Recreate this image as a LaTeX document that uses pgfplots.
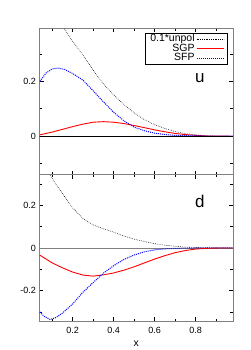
\documentclass[border=0pt]{standalone}
\usepackage{fontspec}
\setmainfont{Liberation Sans}
\usepackage{pgfplots}
\pgfplotsset{compat=1.18}
\definecolor{frame}{RGB}{128,128,128}
\pgfplotsset{
  panel/.style={
    scale only axis, width=193.5pt, height=146.5pt,
    xmin=0.038, xmax=0.982,
    axis line style={frame, line width=0.9pt},
    tick style={black, line width=0.5pt},
    major tick length=4pt, minor tick length=2.5pt,
    tick align=inside,
    xtick={0.2,0.4,0.6,0.8}, minor xtick={0.1,0.3,0.5,0.7,0.9},
    ticklabel style={font=\fontsize{9}{10}\selectfont},
    /pgf/number format/assume math mode=true,
    yticklabel style={/pgf/number format/fixed},
    xticklabel style={/pgf/number format/fixed},
    clip=true,
  },
  unpol/.style={black, line width=0.6pt, dash pattern=on 0.6pt off 1.2pt},
  sgp/.style={red, line width=0.9pt},
  sfp/.style={blue, line width=1.0pt, dash pattern=on 1pt off 1pt},
}
\begin{document}
\begin{tikzpicture}
\useasboundingbox (-39.5pt,-175.3pt) rectangle (210.5pt,174.7pt);
\begin{axis}[panel, at={(0,0)}, anchor=south west,
  ymin=-0.14, ymax=0.393,
  ytick={0,0.2}, minor ytick={-0.1,0.1,0.3},
  xticklabels={},
  legend plot pos=right,
  legend cell align=right,
  legend image code/.code={\draw[#1] (0pt,0pt) -- (27pt,0pt);},
  legend style={at={(0.974,0.965)}, anchor=north east, draw=black, line width=0.6pt,
    inner xsep=3.5pt, inner ysep=1pt, row sep=0pt,
    nodes={font=\fontsize{10.5}{10.5}\selectfont, inner xsep=1.5pt, inner ysep=0pt, text height=7.3pt, text depth=2.2pt}},
]
\addplot[unpol] coordinates {(0.16,0.39) (0.2,0.345) (0.25,0.295) (0.3,0.24) (0.35,0.19) (0.4,0.15) (0.45,0.115) (0.5,0.085) (0.55,0.06) (0.6,0.042) (0.65,0.028) (0.7,0.017) (0.75,0.009) (0.8,0.005) (0.85,0.002) (0.9,0.0005) (0.98,0)};
\addlegendentry{0.1*unpol}
\addplot[sgp] coordinates {(0.04,0.005) (0.1,0.015) (0.15,0.025) (0.2,0.035) (0.25,0.044) (0.3,0.051) (0.35,0.053) (0.4,0.051) (0.45,0.046) (0.5,0.039) (0.55,0.031) (0.6,0.023) (0.65,0.016) (0.7,0.010) (0.75,0.006) (0.8,0.003) (0.85,0.001) (0.9,0.0003) (0.98,0)};
\addlegendentry{SGP}
\addplot[sfp] coordinates {(0.04,0.2) (0.07,0.23) (0.1,0.245) (0.13,0.248) (0.16,0.243) (0.2,0.228) (0.25,0.204) (0.3,0.165) (0.35,0.125) (0.4,0.087) (0.45,0.056) (0.5,0.033) (0.55,0.02) (0.6,0.011) (0.65,0.006) (0.7,0.003) (0.8,0.001) (0.98,0)};
\addlegendentry{SFP}
\addplot[black, line width=0.6pt, forget plot] coordinates {(0.03,0) (0.99,0)};
\node[font=\fontsize{17}{17}\selectfont] at (axis cs:0.82,0.21) {u};
\end{axis}
\begin{axis}[panel, at={(0,0)}, anchor=north west,
  ymin=-0.343, ymax=0.343,
  ytick={-0.2,0,0.2}, minor ytick={-0.3,-0.1,0.1,0.3},
  xticklabel style={yshift=-2pt},
  xlabel={x}, xlabel style={font=\fontsize{10.5}{10.5}\selectfont, yshift=-1pt},
]
\addplot[frame, line width=0.8pt] coordinates {(0.03,0) (0.99,0)};
\addplot[unpol] coordinates {(0.09,0.34) (0.1,0.325) (0.12,0.295) (0.15,0.255) (0.2,0.187) (0.25,0.138) (0.3,0.108) (0.35,0.09) (0.4,0.074) (0.45,0.056) (0.5,0.041) (0.55,0.03) (0.6,0.02) (0.65,0.013) (0.7,0.008) (0.75,0.004) (0.8,0.002) (0.9,0.0003) (0.98,0)};
\addplot[sgp] coordinates {(0.04,-0.034) (0.1,-0.07) (0.15,-0.093) (0.2,-0.113) (0.25,-0.127) (0.3,-0.132) (0.35,-0.126) (0.4,-0.117) (0.45,-0.104) (0.5,-0.088) (0.55,-0.07) (0.6,-0.052) (0.65,-0.036) (0.7,-0.022) (0.75,-0.012) (0.8,-0.005) (0.85,-0.002) (0.9,-0.0005) (0.98,0)};
\addplot[sfp] coordinates {(0.04,-0.30) (0.06,-0.32) (0.09,-0.335) (0.12,-0.325) (0.15,-0.305) (0.2,-0.262) (0.25,-0.207) (0.3,-0.162) (0.35,-0.118) (0.4,-0.083) (0.45,-0.054) (0.5,-0.033) (0.55,-0.018) (0.6,-0.009) (0.65,-0.004) (0.7,-0.002) (0.8,0) (0.98,0)};
\node[font=\fontsize{17}{17}\selectfont] at (axis cs:0.82,0.22) {d};
\end{axis}
\end{tikzpicture}
\end{document}
